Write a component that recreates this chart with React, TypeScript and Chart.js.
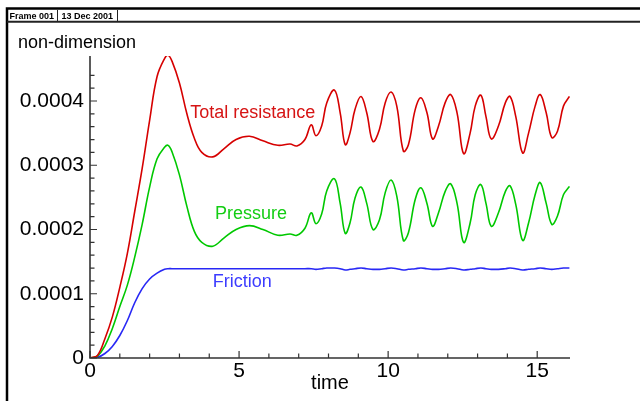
import React, { useEffect, useRef } from 'react';
import { Chart, registerables } from 'chart.js';

Chart.register(...registerables);

// time axis (shared by all three series)
const time = [
  0, 0.25, 0.5, 0.75, 1.0, 1.25, 1.5, 1.75, 2.0, 2.25,
  2.5, 2.62, 2.75, 3.0, 3.25, 3.5, 3.75, 4.12, 4.5, 4.9,
  5.35, 5.8, 6.3, 6.71, 6.94, 7.21, 7.42, 7.58, 7.77, 7.94,
  8.2, 8.39, 8.56, 8.72, 8.89, 9.09, 9.28, 9.49, 9.71, 9.9,
  10.1, 10.29, 10.51, 10.68, 10.91, 11.1, 11.3, 11.49, 11.69, 11.91,
  12.1, 12.31, 12.53, 12.75, 12.92, 13.11, 13.28, 13.46, 13.7, 13.93,
  14.09, 14.28, 14.51, 14.71, 14.93, 15.1, 15.3, 15.49, 15.68, 15.88,
  16.08,
];

const totalResistance = [
  0, 0.04e-4, 0.30e-4, 0.64e-4, 1.10e-4, 1.62e-4, 2.28e-4, 2.95e-4, 3.70e-4, 4.38e-4,
  4.66e-4, 4.71e-4, 4.62e-4, 4.28e-4, 3.80e-4, 3.42e-4, 3.20e-4, 3.13e-4, 3.26e-4, 3.40e-4,
  3.45e-4, 3.38e-4, 3.31e-4, 3.33e-4, 3.30e-4, 3.40e-4, 3.63e-4, 3.46e-4, 3.61e-4, 3.97e-4,
  4.17e-4, 3.82e-4, 3.32e-4, 3.50e-4, 3.87e-4, 4.07e-4, 3.82e-4, 3.37e-4, 3.56e-4, 3.97e-4,
  4.14e-4, 3.92e-4, 3.22e-4, 3.32e-4, 3.87e-4, 4.05e-4, 3.82e-4, 3.41e-4, 3.61e-4, 3.97e-4,
  4.10e-4, 3.82e-4, 3.18e-4, 3.50e-4, 3.92e-4, 4.09e-4, 3.76e-4, 3.41e-4, 3.61e-4, 3.97e-4,
  4.07e-4, 3.76e-4, 3.19e-4, 3.50e-4, 3.92e-4, 4.10e-4, 3.82e-4, 3.43e-4, 3.53e-4, 3.92e-4,
  4.07e-4,
];

const pressure = [
  0, 0.03e-4, 0.19e-4, 0.46e-4, 0.80e-4, 1.13e-4, 1.57e-4, 2.08e-4, 2.66e-4, 3.10e-4,
  3.28e-4, 3.31e-4, 3.21e-4, 2.85e-4, 2.36e-4, 1.97e-4, 1.80e-4, 1.74e-4, 1.87e-4, 2.00e-4,
  2.06e-4, 2.00e-4, 1.91e-4, 1.93e-4, 1.91e-4, 2.02e-4, 2.26e-4, 2.09e-4, 2.24e-4, 2.60e-4,
  2.79e-4, 2.41e-4, 1.94e-4, 2.10e-4, 2.49e-4, 2.66e-4, 2.41e-4, 2.00e-4, 2.15e-4, 2.57e-4,
  2.77e-4, 2.52e-4, 1.83e-4, 1.95e-4, 2.47e-4, 2.65e-4, 2.41e-4, 2.05e-4, 2.26e-4, 2.59e-4,
  2.71e-4, 2.41e-4, 1.80e-4, 2.10e-4, 2.54e-4, 2.70e-4, 2.41e-4, 2.05e-4, 2.26e-4, 2.59e-4,
  2.68e-4, 2.39e-4, 1.83e-4, 2.10e-4, 2.54e-4, 2.73e-4, 2.41e-4, 2.08e-4, 2.21e-4, 2.54e-4,
  2.67e-4,
];

const friction = [
  0, 0.01e-4, 0.07e-4, 0.18e-4, 0.35e-4, 0.58e-4, 0.86e-4, 1.08e-4, 1.23e-4, 1.32e-4,
  1.38e-4, 1.39e-4, 1.39e-4, 1.39e-4, 1.39e-4, 1.39e-4, 1.39e-4, 1.39e-4, 1.39e-4, 1.39e-4,
  1.39e-4, 1.39e-4, 1.39e-4, 1.39e-4, 1.39e-4, 1.39e-4, 1.39e-4, 1.38e-4, 1.39e-4, 1.40e-4,
  1.40e-4, 1.39e-4, 1.37e-4, 1.38e-4, 1.39e-4, 1.40e-4, 1.39e-4, 1.38e-4, 1.38e-4, 1.39e-4,
  1.40e-4, 1.39e-4, 1.37e-4, 1.38e-4, 1.39e-4, 1.40e-4, 1.39e-4, 1.38e-4, 1.38e-4, 1.39e-4,
  1.40e-4, 1.39e-4, 1.37e-4, 1.38e-4, 1.39e-4, 1.40e-4, 1.39e-4, 1.38e-4, 1.38e-4, 1.39e-4,
  1.40e-4, 1.39e-4, 1.37e-4, 1.38e-4, 1.39e-4, 1.40e-4, 1.39e-4, 1.38e-4, 1.39e-4, 1.40e-4,
  1.40e-4,
];

const seriesNames = ['Total resistance', 'Pressure', 'Friction'];
const seriesColors = ['rgb(214,0,0)', 'rgb(0,200,0)', 'rgb(40,40,245)'];
const labelColors = ['rgb(214,20,20)', 'rgb(20,205,20)', 'rgb(60,60,255)'];
// label anchors in data coordinates [time, value]
const labelAnchors: [number, number][] = [
  [3.36, 3.74e-4],
  [4.19, 2.17e-4],
  [4.12, 1.106e-4],
];

const xMin = 0;
const xMax = 16.1;
const yMin = 0;
const yMax = 0.00047;
const yMajor = 0.0001;
const yMinor = 0.00002;
const xMajor = 5;
const xMinor = 1;

const FONT = '"Liberation Sans", Arial, Helvetica, sans-serif';

const isMultiple = (v: number, step: number) => Math.abs(v / step - Math.round(v / step)) < 1e-6;

const framePlugin = {
  id: 'framePlugin',
  beforeDraw(chart: any) {
    const ctx = chart.ctx as CanvasRenderingContext2D;
    ctx.save();
    ctx.fillStyle = '#fff';
    ctx.fillRect(0, 0, chart.width, chart.height);
    ctx.strokeStyle = '#000';
    ctx.lineWidth = 2.5;
    ctx.beginPath();
    ctx.moveTo(7, chart.height);
    ctx.lineTo(7, 8.5);
    ctx.lineTo(chart.width, 8.5);
    ctx.stroke();
    ctx.strokeStyle = '#222';
    ctx.lineWidth = 2;
    ctx.beginPath();
    ctx.moveTo(7, 21.8);
    ctx.lineTo(chart.width, 21.8);
    ctx.stroke();
    ctx.lineWidth = 1;
    ctx.beginPath();
    ctx.moveTo(57.5, 10);
    ctx.lineTo(57.5, 21);
    ctx.moveTo(117.5, 10);
    ctx.lineTo(117.5, 21);
    ctx.stroke();
    ctx.fillStyle = '#000';
    ctx.font = `bold 9px ${FONT}`;
    ctx.textBaseline = 'alphabetic';
    ctx.textAlign = 'left';
    ctx.fillText('Frame 001', 9.5, 19);
    ctx.fillText('13 Dec 2001', 61.5, 19);
    ctx.font = `18px ${FONT}`;
    ctx.fillText('non-dimension', 18, 48);
    ctx.restore();
  },
  afterDatasetsDraw(chart: any) {
    const ctx = chart.ctx as CanvasRenderingContext2D;
    const xs = chart.scales.x;
    const ys = chart.scales.y;
    const x0 = xs.getPixelForValue(xMin);
    const x1 = xs.getPixelForValue(xMax);
    const y0 = ys.getPixelForValue(yMin);
    const y1 = ys.getPixelForValue(yMax);
    ctx.save();
    ctx.strokeStyle = '#333';
    ctx.lineWidth = 1.6;
    ctx.beginPath();
    ctx.moveTo(x0, y1);
    ctx.lineTo(x0, y0);
    ctx.lineTo(x1, y0);
    ctx.stroke();
    ctx.lineWidth = 1.2;
    ctx.beginPath();
    xs.ticks.forEach((t: any) => {
      if (!isMultiple(t.value, xMinor)) return;
      const px = xs.getPixelForValue(t.value);
      const len = isMultiple(t.value, xMajor) ? 7 : 4.5;
      ctx.moveTo(px, y0);
      ctx.lineTo(px, y0 - len);
    });
    ys.ticks.forEach((t: any) => {
      if (!isMultiple(t.value, yMinor)) return;
      const py = ys.getPixelForValue(t.value);
      const len = isMultiple(t.value, yMajor) ? 7 : 4.5;
      ctx.moveTo(x0, py);
      ctx.lineTo(x0 + len, py);
    });
    ctx.stroke();
    ctx.font = `18px ${FONT}`;
    ctx.textAlign = 'left';
    ctx.textBaseline = 'alphabetic';
    seriesNames.forEach((name, i) => {
      const [tx, ty] = labelAnchors[i];
      ctx.fillStyle = labelColors[i];
      ctx.fillText(name, xs.getPixelForValue(tx), ys.getPixelForValue(ty));
    });
    ctx.restore();
  },
};

export default function App() {
  const canvasRef = useRef<HTMLCanvasElement | null>(null);

  useEffect(() => {
    const canvas = canvasRef.current;
    if (!canvas) return;
    const seriesValues = [totalResistance, pressure, friction];
    const chart = new Chart(canvas, {
      type: 'line',
      data: {
        datasets: seriesValues.map((vals, i) => ({
          label: seriesNames[i],
          data: time.map((t, j) => ({ x: t, y: vals[j] })),
          borderColor: seriesColors[i],
          backgroundColor: seriesColors[i],
          borderWidth: 1.6,
          pointRadius: 0,
          fill: false,
          tension: 0.4,
        })),
      },
      options: {
        animation: false,
        responsive: false,
        devicePixelRatio: 1,
        layout: { padding: { left: 0, right: 70, top: 56, bottom: 0 } },
        plugins: {
          legend: { display: false },
          tooltip: { enabled: false },
          title: { display: false },
        },
        scales: {
          x: {
            type: 'linear',
            min: xMin,
            max: xMax,
            grid: { display: false, drawTicks: false },
            border: { display: false },
            ticks: {
              stepSize: xMinor,
              autoSkip: false,
              maxRotation: 0,
              padding: 1,
              color: '#000',
              font: { family: FONT, size: 21 },
              callback: (v: any) => (isMultiple(Number(v), xMajor) ? String(v) : ''),
            },
            title: {
              display: true,
              text: 'time',
              color: '#000',
              font: { family: FONT, size: 20 },
              padding: { top: 0, bottom: 6 },
            },
            afterFit: (s: any) => {
              s.height = 43;
            },
          },
          y: {
            type: 'linear',
            min: yMin,
            max: yMax,
            grid: { display: false, drawTicks: false },
            border: { display: false },
            ticks: {
              stepSize: yMinor,
              autoSkip: false,
              padding: 6,
              color: '#000',
              font: { family: FONT, size: 21 },
              callback: (v: any) => {
                const n = Number(v);
                if (!isMultiple(n, yMajor)) return '';
                return n === 0 ? '0' : n.toFixed(4);
              },
            },
            afterFit: (s: any) => {
              s.width = 90;
            },
          },
        },
      },
      plugins: [framePlugin],
    } as any);
    return () => chart.destroy();
  }, []);

  return (
    <div style={{ position: 'fixed', left: 0, top: 0, width: 640, height: 401, background: '#fff' }}>
      <canvas ref={canvasRef} width={640} height={401} style={{ display: 'block', width: 640, height: 401 }} />
    </div>
  );
}
